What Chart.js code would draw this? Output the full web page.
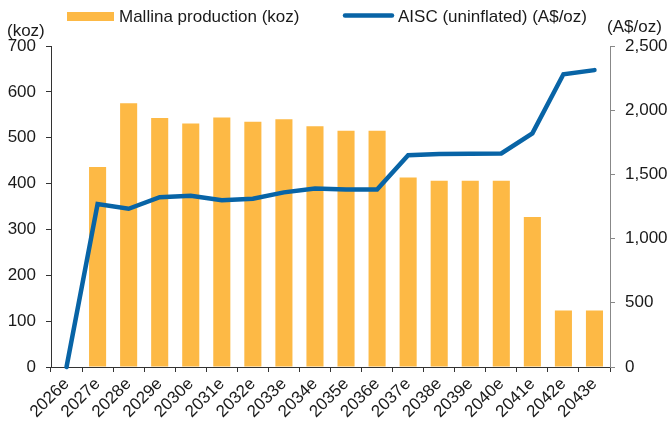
<!DOCTYPE html>
<html>
<head>
<meta charset="utf-8">
<script src="https://cdn.jsdelivr.net/npm/chart.js@4/dist/chart.umd.min.js"></script>
<style>
  body { margin: 0; background: #fff; }
  #wrap { width: 670px; height: 426px; }
</style>
</head>
<body>
<div id="wrap"><canvas id="chart" width="670" height="426"></canvas></div>
<script>
// data
const years = ["2026e", "2027e", "2028e", "2029e", "2030e", "2031e", "2032e", "2033e", "2034e",
  "2035e", "2036e", "2037e", "2038e", "2039e", "2040e", "2041e", "2042e", "2043e"];
const production = [0, 436, 575, 543, 531, 544, 535, 540, 525, 515, 515, 413, 406, 406, 406, 327, 123, 123];
const aisc = [0, 1269, 1232, 1322, 1333, 1298, 1311, 1360, 1390, 1382, 1382, 1650, 1658, 1661, 1663, 1820, 2280, 2312];
const leftTicks = [0, 100, 200, 300, 400, 500, 600, 700];
const rightTicks = [0, 500, 1000, 1500, 2000, 2500];

const ORANGE = "#FDB945";
const BLUE = "#0864A6";
const TEXT = "#1a1a1a";
const FONT = "Liberation Sans, Arial, sans-serif";

// legend + unit labels drawn on the canvas
const headerPlugin = {
  id: "header",
  afterDraw(chart) {
    const ctx = chart.ctx;
    const ds = chart.data.datasets;
    ctx.save();
    ctx.font = "17px " + FONT;
    ctx.fillStyle = TEXT;
    ctx.textBaseline = "middle";
    ctx.textAlign = "left";

    ctx.fillStyle = ds[1].backgroundColor;
    ctx.fillRect(67, 12, 47, 9);
    ctx.fillStyle = TEXT;
    ctx.fillText(ds[1].label, 119, 17);

    ctx.strokeStyle = ds[0].borderColor;
    ctx.lineWidth = 4.5;
    ctx.lineCap = "round";
    ctx.beginPath();
    ctx.moveTo(345, 15.5);
    ctx.lineTo(392, 15.5);
    ctx.stroke();
    ctx.fillText(ds[0].label, 398, 17);

    ctx.fillText("(koz)", 7, 31);
    ctx.fillText("(A$/oz)", 607, 27.5);
    ctx.restore();
  }
};

const ctx = document.getElementById("chart").getContext("2d");
new Chart(ctx, {
  type: "bar",
  data: {
    labels: years,
    datasets: [
      {
        type: "line",
        label: "AISC (uninflated) (A$/oz)",
        data: aisc,
        yAxisID: "y1",
        borderColor: BLUE,
        backgroundColor: BLUE,
        borderWidth: 4.5,
        borderCapStyle: "round",
        pointRadius: 0,
        tension: 0,
        clip: 8,
        order: 1
      },
      {
        type: "bar",
        label: "Mallina production (koz)",
        data: production,
        yAxisID: "y",
        backgroundColor: ORANGE,
        barPercentage: 0.55,
        categoryPercentage: 1,
        order: 2
      }
    ]
  },
  options: {
    responsive: false,
    animation: false,
    layout: { padding: { top: 46, left: 0, right: 0, bottom: 0 } },
    plugins: {
      legend: { display: false },
      tooltip: { enabled: false }
    },
    scales: {
      x: {
        offset: true,
        grid: { display: true, drawOnChartArea: false, offset: true, tickLength: 5, color: "#333" },
        border: { color: "#333" },
        ticks: {
          autoSkip: false, maxRotation: 45, minRotation: 45, padding: 2,
          color: TEXT, font: { family: FONT, size: 17 }
        },
        afterFit: s => { s.height = 59; }
      },
      y: {
        position: "left",
        min: 0, max: 700,
        afterBuildTicks: s => { s.ticks = leftTicks.map(v => ({ value: v })); },
        grid: { drawOnChartArea: false, tickLength: 5, color: "#333" },
        border: { color: "#333" },
        ticks: { padding: 10, color: TEXT, font: { family: FONT, size: 17 } },
        afterFit: s => { s.width = 51; }
      },
      y1: {
        position: "right",
        min: 0, max: 2500,
        afterBuildTicks: s => { s.ticks = rightTicks.map(v => ({ value: v })); },
        grid: { drawOnChartArea: false, tickLength: 5, color: "#888" },
        border: { color: "#888" },
        ticks: {
          padding: 10, color: TEXT, font: { family: FONT, size: 17 },
          callback: v => v.toLocaleString("en-US")
        },
        afterFit: s => { s.width = 60; }
      }
    }
  },
  plugins: [headerPlugin]
});
</script>
</body>
</html>
